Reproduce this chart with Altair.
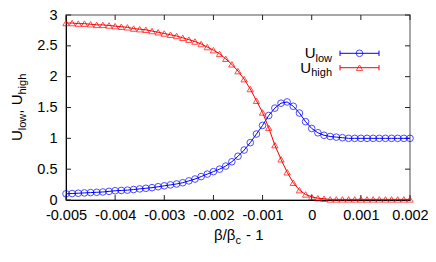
import altair as alt
import pandas as pd

# beta/beta_c - 1 sample positions
x_vals = [
    -0.005, -0.004875, -0.00475, -0.004625, -0.0045, -0.004375, -0.00425, -0.004125,
    -0.004, -0.003875, -0.00375, -0.003625, -0.0035, -0.003375, -0.00325, -0.003125,
    -0.003, -0.002875, -0.00275, -0.002625, -0.0025, -0.002375, -0.00225, -0.002125,
    -0.002, -0.001875, -0.00175, -0.001625, -0.0015, -0.001375, -0.00125, -0.001125,
    -0.001, -0.000875, -0.00075, -0.000625, -0.0005, -0.000375, -0.00025, -0.000125,
    0.0, 0.000125, 0.00025, 0.000375, 0.0005, 0.000625, 0.00075, 0.000875,
    0.001, 0.001125, 0.00125, 0.001375, 0.0015, 0.001625, 0.00175, 0.001875, 0.002,
]
u_low = [
    0.10, 0.105, 0.11, 0.115, 0.12, 0.125, 0.13, 0.14,
    0.15, 0.155, 0.16, 0.17, 0.18, 0.19, 0.20, 0.215,
    0.23, 0.245, 0.26, 0.28, 0.31, 0.34, 0.38, 0.42,
    0.46, 0.50, 0.55, 0.62, 0.71, 0.81, 0.93, 1.07,
    1.21, 1.37, 1.49, 1.57, 1.59, 1.52, 1.41, 1.27,
    1.16, 1.09, 1.05, 1.03, 1.02, 1.01, 1.00, 1.00,
    1.00, 1.00, 1.00, 1.00, 1.00, 1.00, 1.00, 1.00, 1.00,
]
u_high = [
    2.87, 2.87, 2.86, 2.86, 2.85, 2.84, 2.84, 2.83,
    2.82, 2.81, 2.80, 2.78, 2.77, 2.76, 2.74, 2.72,
    2.70, 2.68, 2.66, 2.63, 2.60, 2.57, 2.53, 2.48,
    2.43, 2.37, 2.29, 2.20, 2.09, 1.96, 1.80, 1.61,
    1.42, 1.17, 0.89, 0.66, 0.45, 0.28, 0.16, 0.09,
    0.05, 0.03, 0.02, 0.01, 0.01, 0.01, 0.01, 0.01,
    0.01, 0.01, 0.01, 0.01, 0.01, 0.01, 0.01, 0.01, 0.01,
]
x_ticks = [-0.005, -0.004, -0.003, -0.002, -0.001, 0.0, 0.001, 0.002]
y_ticks = [0, 0.5, 1, 1.5, 2, 2.5, 3]

W, H = 344, 185
FONT = "Liberation Sans"
LBL = 14.5
BLUE = "#0000ff"
RED = "#ff0000"

xscale = alt.Scale(domain=[-0.005, 0.002], nice=False, zero=False)
yscale = alt.Scale(domain=[0, 3], nice=False, zero=False)
xaxis = alt.Axis(values=x_ticks, title=None, grid=False, ticks=False, labelPadding=8,
                 labelOverlap=False, labelFlush=False,
                 labelExpr="datum.value == 0 ? '0' : (datum.value < 0 ? '-' + format(-datum.value, '.3f') : format(datum.value, '.3f'))")
yaxis = alt.Axis(values=y_ticks, title=None, grid=False, ticks=False, labelPadding=9,
                 labelOverlap=False, labelFlush=False,
                 labelExpr="format(datum.value, '~g')")


def X(field):
    return alt.X(field, type="quantitative", scale=xscale, axis=xaxis)


def Y(field):
    return alt.Y(field, type="quantitative", scale=yscale, axis=yaxis)


df = pd.DataFrame({"x": x_vals, "low": u_low, "high": u_high})
base = alt.Chart(df)

low_line = base.mark_line(color=BLUE, strokeWidth=1).encode(x=X("x"), y=Y("low"))
low_pts = base.mark_point(shape="circle", filled=False, color=BLUE, size=44, strokeWidth=1).encode(x=X("x"), y=Y("low"))
high_line = base.mark_line(color=RED, strokeWidth=1).encode(x=X("x"), y=Y("high"))
high_pts = base.mark_point(shape="triangle-up", filled=False, color=RED, size=40, strokeWidth=1).encode(x=X("x"), y=Y("high"))

xt = alt.Chart(pd.DataFrame({"t": x_ticks}))
yt = alt.Chart(pd.DataFrame({"t": y_ticks}))
TC = "#222222"
ticks = [
    xt.mark_rule(color=TC, strokeWidth=1).encode(x=X("t"), y=alt.value(H), y2=alt.value(H - 5)),
    xt.mark_rule(color=TC, strokeWidth=1).encode(x=X("t"), y=alt.value(0), y2=alt.value(5)),
    yt.mark_rule(color=TC, strokeWidth=1).encode(y=Y("t"), x=alt.value(0), x2=alt.value(5)),
    yt.mark_rule(color=TC, strokeWidth=1).encode(y=Y("t"), x=alt.value(W), x2=alt.value(W - 5)),
]

one = alt.Chart(pd.DataFrame({"a": [0]}))


def txt(s, x, y, size=15, align="left", angle=0):
    return one.mark_text(font=FONT, fontSize=size, color="black", align=align,
                         baseline="alphabetic", angle=angle).encode(
        x=alt.value(x), y=alt.value(y), text=alt.value(s))


# y title (rotated), pieces from bottom to top
y0 = 126
YB = -44
texts = [
    txt("U", YB, y0, angle=270),
    txt("low", YB + 4, y0 - 10.8, size=11, angle=270),
    txt(",\u00a0U", YB, y0 - 27.3, angle=270),
    txt("high", YB + 4, y0 - 46.5, size=11, angle=270),
    # x title
    txt("β/β", 148, 225),
    txt("c", 169.5, 228.5, size=11),
    txt("-\u00a01", 180, 225),
    # legend text
    txt("U", 249.5, 43, align="right"),
    txt("low", 266, 46.5, size=11, align="right"),
    txt("U", 245.2, 57.7, align="right"),
    txt("high", 266, 61, size=11, align="right"),
]

legend = []
for yy, col, shp, sz in [(38.3, BLUE, "circle", 44), (52.7, RED, "triangle-up", 40)]:
    legend.append(one.mark_rule(color=col, strokeWidth=1).encode(
        x=alt.value(274), x2=alt.value(313), y=alt.value(yy)))
    legend.append(one.mark_rule(color=col, strokeWidth=1).encode(
        x=alt.value(274), y=alt.value(yy - 2.7), y2=alt.value(yy + 2.7)))
    legend.append(one.mark_rule(color=col, strokeWidth=1).encode(
        x=alt.value(313), y=alt.value(yy - 2.7), y2=alt.value(yy + 2.7)))
    legend.append(one.mark_point(shape=shp, filled=False, color=col, size=sz, strokeWidth=1).encode(
        x=alt.value(293.5), y=alt.value(yy)))

chart = alt.layer(
    *ticks, low_line, low_pts, high_line, high_pts, *texts, *legend
).properties(
    width=W, height=H,
    autosize=alt.AutoSizeParams(type="none"),
    padding={"left": 58, "top": 7, "right": 18, "bottom": 50},
).configure_view(
    stroke="#8a8a8a", strokeWidth=1.5
).configure_axis(
    labelFont=FONT, labelFontSize=LBL, labelColor="black",
    domainColor="black", domainWidth=1,
)

chart.save("out.html", embed_options={"renderer": "svg", "actions": False})
